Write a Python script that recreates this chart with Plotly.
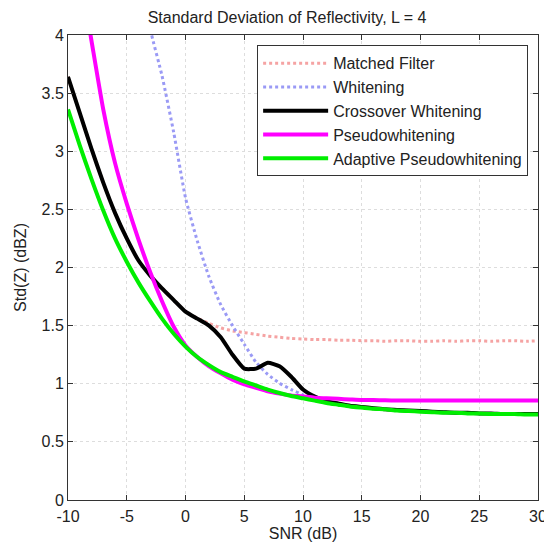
import plotly.graph_objects as go

# SNR grid (dB)
snr = list(range(-10, 31))

# values (dBZ)
crossover = [3.64, 3.33, 3.02, 2.73, 2.47, 2.25, 2.06, 1.93, 1.82, 1.72,
             1.62, 1.56, 1.50, 1.40, 1.25, 1.13, 1.13, 1.18, 1.15, 1.06,
             0.95, 0.89, 0.85, 0.83, 0.81, 0.80, 0.79, 0.78, 0.775, 0.77,
             0.765, 0.76, 0.755, 0.75, 0.75, 0.745, 0.745, 0.74, 0.74, 0.74, 0.74]

matched = [3.64, 3.33, 3.02, 2.73, 2.47, 2.25, 2.06, 1.93, 1.82, 1.72,
           1.62, 1.565, 1.52, 1.48, 1.455, 1.44, 1.425, 1.41, 1.40, 1.39,
           1.385, 1.38, 1.38, 1.375, 1.375, 1.37, 1.37, 1.365, 1.37, 1.37,
           1.365, 1.365, 1.37, 1.365, 1.37, 1.37, 1.365, 1.37, 1.37, 1.365, 1.37]

whitening = [9.0, 8.2, 7.4, 6.7, 6.0, 5.3, 4.6, 4.05, 3.65, 3.16,
             2.60, 2.23, 1.92, 1.68, 1.50, 1.34, 1.185, 1.08, 1.005, 0.95,
             0.905, 0.875, 0.85, 0.83, 0.81, 0.80, 0.79, 0.78, 0.775, 0.77,
             0.765, 0.76, 0.755, 0.75, 0.75, 0.745, 0.745, 0.74, 0.74, 0.74, 0.74]

pseudo = [5.2, 4.55, 3.95, 3.36, 2.90, 2.55, 2.24, 1.96, 1.71, 1.49,
          1.33, 1.23, 1.15, 1.09, 1.035, 0.995, 0.965, 0.935, 0.915, 0.90,
          0.89, 0.88, 0.875, 0.87, 0.865, 0.86, 0.86, 0.857, 0.855, 0.855,
          0.855, 0.855, 0.855, 0.855, 0.855, 0.855, 0.855, 0.855, 0.855, 0.855, 0.855]

adaptive = [3.36, 3.05, 2.76, 2.49, 2.25, 2.05, 1.87, 1.71, 1.56, 1.43,
            1.32, 1.23, 1.16, 1.10, 1.06, 1.02, 0.985, 0.95, 0.92, 0.895,
            0.875, 0.855, 0.835, 0.82, 0.805, 0.795, 0.785, 0.78, 0.77, 0.765,
            0.76, 0.755, 0.75, 0.75, 0.745, 0.745, 0.74, 0.74, 0.74, 0.735, 0.735]

xticks = [-10, -5, 0, 5, 10, 15, 20, 25, 30]
yticks = [0, 0.5, 1, 1.5, 2, 2.5, 3, 3.5, 4]
ytick_labels = ['0', '0.5', '1', '1.5', '2', '2.5', '3', '3.5', '4']

fig = go.Figure()
fig.add_trace(go.Scatter(x=snr, y=matched, name='Matched Filter', mode='lines',
                         line=dict(color='#f5a3a3', width=3, dash='dot', shape='spline', smoothing=0.5)))
fig.add_trace(go.Scatter(x=snr, y=whitening, name='Whitening', mode='lines',
                         line=dict(color='#9a9af5', width=3, dash='dot', shape='spline', smoothing=0.5)))
fig.add_trace(go.Scatter(x=snr, y=crossover, name='Crossover Whitening', mode='lines',
                         line=dict(color='black', width=4, shape='spline', smoothing=0.5)))
fig.add_trace(go.Scatter(x=snr, y=pseudo, name='Pseudowhitening', mode='lines',
                         line=dict(color='#ff00ff', width=4, shape='spline', smoothing=0.5)))
fig.add_trace(go.Scatter(x=snr, y=adaptive, name='Adaptive Pseudowhitening', mode='lines',
                         line=dict(color='#00ee00', width=4, shape='spline', smoothing=0.5)))

axis_common = dict(showline=True, linecolor='#333333', linewidth=1, mirror='allticks',
                   ticks='inside', ticklen=5, tickcolor='#333333',
                   showgrid=True, gridcolor='#dddddd', griddash='dot', gridwidth=1,
                   zeroline=False, automargin=False,
                   tickfont=dict(size=16, color='#222222'))

fig.update_xaxes(range=[-10, 30], tickvals=xticks, ticktext=[str(t) for t in xticks],
                 ticklabelstandoff=2,
                 title=dict(text='SNR (dB)', font=dict(size=16, color='#222222'), standoff=0),
                 **axis_common)
fig.update_yaxes(range=[0, 4], tickvals=yticks, ticktext=ytick_labels,
                 title=dict(text='Std(Z) (dBZ)', font=dict(size=16, color='#222222'), standoff=10),
                 **axis_common)

# page body has an 8px margin, so the figure is sized to fit inside the window
fig.update_layout(
    width=544, height=534,
    margin=dict(l=60, r=14, t=27, b=42),
    paper_bgcolor='white', plot_bgcolor='white',
    font=dict(family='Liberation Sans, Arial, sans-serif', color='#222222'),
    title=dict(text='Standard Deviation of Reflectivity, L = 4', x=0.513, xanchor='center',
               y=0.983, yanchor='middle', font=dict(size=16, color='#222222')),
    legend=dict(x=0.979, y=0.978, xanchor='right', yanchor='top',
                bgcolor='white', bordercolor='#333333', borderwidth=1,
                font=dict(size=16, color='#222222'), itemwidth=65,
                tracegroupgap=0),
    showlegend=True,
)

fig.write_html("out.html")
